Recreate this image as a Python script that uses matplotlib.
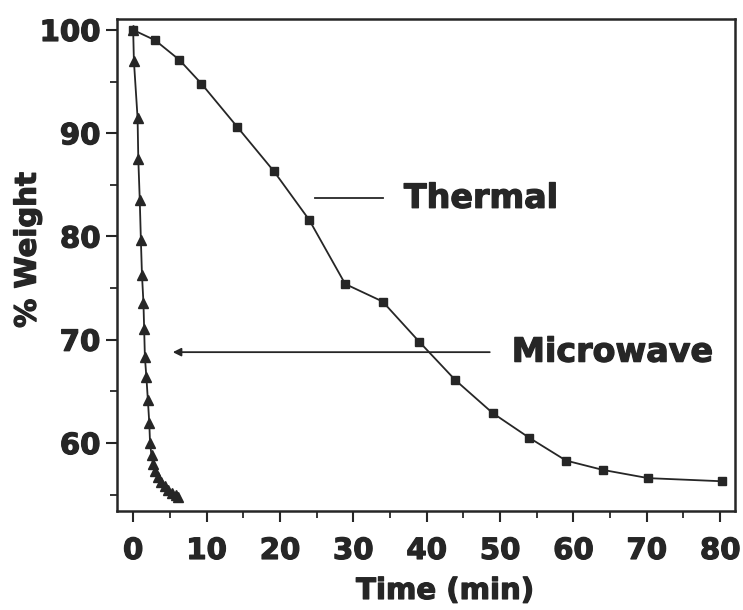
import matplotlib
matplotlib.use("Agg")
import matplotlib.pyplot as plt
import matplotlib.patheffects as pe
from matplotlib.ticker import MultipleLocator

# thermal run (squares)
thermal_t = [0, 3, 6.3, 9.3, 14.2, 19.2, 24, 28.9, 34, 39, 43.9, 49, 54, 59, 64, 70.2, 80.2]
thermal_w = [100, 99.0, 97.1, 94.8, 90.6, 86.3, 81.6, 75.4, 73.7, 69.8, 66.1, 62.9, 60.5, 58.3, 57.4, 56.6, 56.3]

# microwave run (triangles)
micro_t = [0, 0.1, 0.6, 0.7, 0.9, 1.05, 1.2, 1.4, 1.5, 1.6, 1.8, 2.0, 2.2, 2.3, 2.5,
           2.7, 3.0, 3.4, 3.8, 4.3, 4.8, 5.3, 5.8, 6.1]
micro_w = [100, 97.0, 91.5, 87.5, 83.5, 79.7, 76.3, 73.6, 71.0, 68.3, 66.4, 64.2, 61.9, 60.0, 58.8,
           58.0, 57.3, 56.7, 56.2, 55.8, 55.5, 55.2, 55.0, 54.8]

ink = "#262626"
plt.rcParams["font.family"] = ["DejaVu Sans"]
plt.rcParams["font.weight"] = "bold"
heavy = [pe.withStroke(linewidth=0.9, foreground=ink)]

fig = plt.figure(figsize=(7.43, 6.10), dpi=100)
ax = fig.add_axes([0.1575, 0.163, 0.8315, 0.806])

ax.plot(micro_t, micro_w, color=ink, lw=1.3, marker="^", ms=7.5, mfc=ink, mec=ink)
ax.plot(thermal_t, thermal_w, color=ink, lw=1.3, marker="s", ms=6, mfc=ink, mec=ink)

ax.set_xlim(-2.2, 82.0)
ax.set_ylim(53.46, 101.07)
ax.xaxis.set_major_locator(MultipleLocator(10))
ax.xaxis.set_minor_locator(MultipleLocator(5))
ax.yaxis.set_minor_locator(MultipleLocator(5))
ax.set_yticks([60, 70, 80, 90, 100])

for s in ax.spines.values():
    s.set_linewidth(1.8)
    s.set_color(ink)
ax.tick_params(axis="both", which="major", length=8, width=1.5, color=ink,
               labelsize=21, labelcolor=ink)
ax.tick_params(axis="both", which="minor", length=5, width=1.3, color=ink)
ax.tick_params(axis="x", which="major", pad=11)
ax.tick_params(axis="y", which="major", pad=4)
for lab in ax.get_xticklabels() + ax.get_yticklabels():
    lab.set_fontweight("bold")
    lab.set_path_effects(heavy)

ax.set_xlabel("Time (min)", fontsize=21, fontweight="bold", color=ink, path_effects=heavy)
ax.set_ylabel("% Weight", fontsize=21, fontweight="bold", color=ink, path_effects=heavy)
ax.xaxis.set_label_coords(0.531, -0.135)
ax.yaxis.set_label_coords(-0.122, 0.53)

# labels
ax.plot([24.8, 34.0], [83.7, 83.7], color=ink, lw=1.3)
ax.text(36.9, 83.7, "Thermal", fontsize=24, fontweight="bold", color=ink,
        va="center", ha="left", path_effects=heavy)
ax.annotate("", xy=(5.4, 68.8), xytext=(48.6, 68.8),
            arrowprops=dict(arrowstyle="-|>", color=ink, lw=1.3,
                            mutation_scale=12, shrinkA=0, shrinkB=0))
ax.text(51.6, 68.8, "Microwave", fontsize=24, fontweight="bold", color=ink,
        va="center", ha="left", path_effects=heavy)

fig.savefig("out.png", dpi=100)
